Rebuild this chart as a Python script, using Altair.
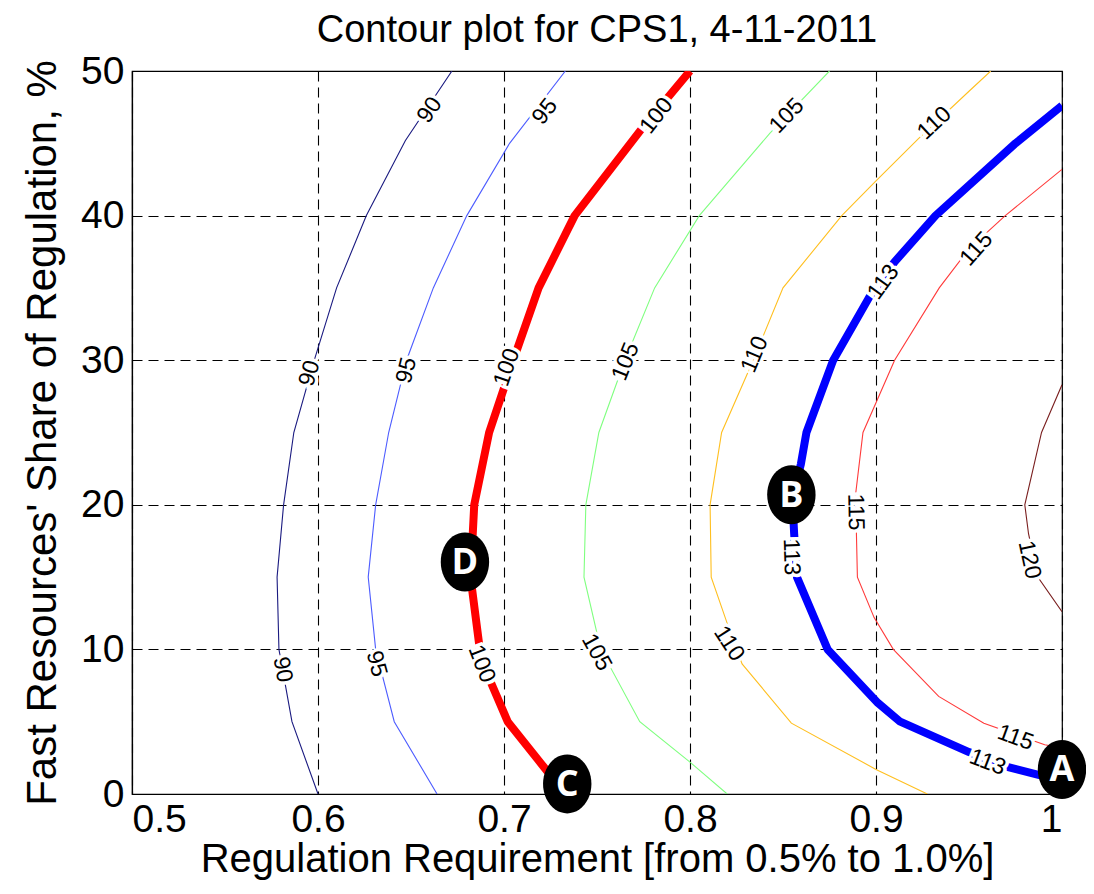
import math
import altair as alt
import pandas as pd

# ---------------- data ----------------
c90_x = [0.600, 0.586, 0.579, 0.578, 0.5815, 0.587, 0.598, 0.610, 0.626, 0.647, 0.672]
c90_y = [0, 5, 10, 15, 20, 25, 30, 35, 40, 45.2, 50]
c95_x = [0.664, 0.641, 0.631, 0.627, 0.631, 0.638, 0.6476, 0.662, 0.680, 0.703, 0.733]
c95_y = [0, 5, 10, 15, 20, 25, 30, 35, 40, 45, 50]
c100_x = [0.733, 0.720, 0.702, 0.691, 0.687, 0.682, 0.684, 0.692, 0.705, 0.7186, 0.738, 0.774, 0.800]
c100_y = [0, 2.1, 5, 8.3, 10, 15, 20, 25, 30, 35, 40, 46, 50]
c105_x = [0.820, 0.800, 0.773, 0.752, 0.743, 0.744, 0.751, 0.765, 0.781, 0.805, 0.843, 0.875]
c105_y = [0, 2.2, 5, 10, 15, 20, 25, 30, 35, 40, 45.7, 50]
c110_x = [0.9276, 0.900, 0.8545, 0.828, 0.820, 0.8114, 0.8108, 0.817, 0.834, 0.850, 0.8816, 0.900, 0.9227, 0.950, 0.9617]
c110_y = [0, 1.7, 4.9, 9, 11.8, 15, 20, 25, 30, 35, 40, 42.4, 45.3, 48.6, 50]
c113_x = [1.0, 0.97, 0.95, 0.913, 0.901, 0.874, 0.8575, 0.856, 0.855, 0.8596, 0.8626, 0.877, 0.897, 0.910, 0.932, 0.975, 1.0]
c113_y = [0.9, 1.9, 2.9, 5, 6.3, 10, 15, 18, 20.5, 22.8, 25, 30, 34.5, 36.8, 40, 45, 47.6]
c115_x = [1.0, 0.9907, 0.958, 0.9337, 0.9093, 0.899, 0.890, 0.889, 0.893, 0.910, 0.934, 0.950, 0.9695, 1.0]
c115_y = [3.2, 3.4, 4.9, 6.75, 10, 12.2, 15, 20.7, 25, 30, 35, 37.7, 40, 43.2]
c120_x = [1.0, 0.987, 0.982, 0.980, 0.989, 1.0]
c120_y = [12.6, 15, 18, 20, 25, 28.3]

thin_levels = ["90", "95", "105", "110", "115", "120"]
thin_colors = ["#1a1a80", "#4d5cff", "#7fff7f", "#ffbf1f", "#ff3a3a", "#7a1f1f"]
thick_levels = ["100", "113"]
thick_colors = ["#ff0000", "#0000ff"]

label_text = ["90", "90", "90", "95", "95", "95", "100", "100", "100",
              "105", "105", "105", "110", "110", "110",
              "113", "113", "113", "115", "115", "115", "120"]
label_x = [0.660, 0.5955, 0.581, 0.722, 0.6476, 0.6315, 0.782, 0.7015, 0.688,
           0.852, 0.7654, 0.7498, 0.9314, 0.8348, 0.821,
           0.904, 0.8545, 0.960, 0.954, 0.889, 0.975, 0.9825]
label_y = [47.3, 29.1, 8.6, 47.2, 29.3, 9.0, 46.9, 29.5, 9.0,
           46.9, 29.9, 9.8, 46.4, 30.4, 10.4,
           35.4, 16.4, 2.2, 37.7, 19.5, 3.9, 16.2]
label_angle = [-56, -74, 80, -52, -76, 75, -52, -71, 69,
               -46, -68, 61, -43, -67, 57,
               -54, 88, 21, -48, 89, 20, 78]

marker_text = ["A", "B", "C", "D"]
marker_x = [1.0, 0.8545, 0.734, 0.679]
marker_y = [1.7, 20.7, 0.7, 16.05]

# ---------------- tables ----------------
series = {"90": (c90_x, c90_y), "95": (c95_x, c95_y), "100": (c100_x, c100_y),
          "105": (c105_x, c105_y), "110": (c110_x, c110_y), "113": (c113_x, c113_y),
          "115": (c115_x, c115_y), "120": (c120_x, c120_y)}
rows = []
for lev, (xs_, ys_) in series.items():
    for i, (xv, yv) in enumerate(zip(xs_, ys_)):
        rows.append({"level": lev, "x": xv, "y": yv, "i": i})
lines = pd.DataFrame(rows)
labels = pd.DataFrame({"t": label_text, "x": label_x, "y": label_y, "a": label_angle})
markers = pd.DataFrame({"t": marker_text, "x": marker_x, "y": marker_y})

# ellipse symbol outline (unit coordinates, taller than wide)
pts = []
for k in range(48):
    t = 2 * math.pi * k / 48
    pts.append(f"{0.82 * math.cos(t):.4f},{math.sin(t):.4f}")
ELLIPSE = "M" + "L".join(pts) + "Z"

FONT = "Liberation Sans"
xs = alt.Scale(domain=[0.5, 1.0], nice=False, zero=False)
ys = alt.Scale(domain=[0, 50], nice=False, zero=False)

X = alt.X("x:Q", scale=xs, axis=alt.Axis(
    values=[0.5, 0.6, 0.7, 0.8, 0.9, 1.0],
    labelExpr="datum.value == 1 ? '1' : format(datum.value, '.1f')",
    title="Regulation Requirement [from 0.5% to 1.0%]"))
Y = alt.Y("y:Q", scale=ys, axis=alt.Axis(
    values=[0, 10, 20, 30, 40, 50], titleFontSize=42,
    title="Fast Resources' Share of Regulation, %"))

thin = alt.Chart(lines).transform_filter(
    alt.FieldOneOfPredicate(field="level", oneOf=thin_levels)
).mark_line(strokeWidth=1.1, clip=True).encode(
    x=X, y=Y, order="i:Q",
    color=alt.Color("level:N", scale=alt.Scale(domain=thin_levels, range=thin_colors), legend=None),
)
thick = alt.Chart(lines).transform_filter(
    alt.FieldOneOfPredicate(field="level", oneOf=thick_levels)
).mark_line(strokeWidth=8, clip=True, strokeJoin="round").encode(
    x="x:Q", y="y:Q", order="i:Q",
    color=alt.Color("level:N", scale=alt.Scale(domain=thick_levels, range=thick_colors), legend=None),
)

halo = alt.Chart(labels).mark_text(font=FONT, fontSize=23, stroke="white", strokeWidth=7,
                                    fill="white", align="center", baseline="middle").encode(
    x="x:Q", y="y:Q", text="t:N", angle=alt.Angle("a:Q", scale=None))
txt = alt.Chart(labels).mark_text(font=FONT, fontSize=23, color="black",
                                   align="center", baseline="middle").encode(
    x="x:Q", y="y:Q", text="t:N", angle=alt.Angle("a:Q", scale=None))

ell = alt.Chart(markers).mark_point(
    shape=ELLIPSE, size=3481, filled=True, color="black", opacity=1, clip=False
).encode(x="x:Q", y="y:Q")
letters = alt.Chart(markers).mark_text(font="Open Sans", fontWeight="bold", fontSize=36,
                                        color="white", align="center", baseline="middle",
                                        dy=1, clip=False).encode(x="x:Q", y="y:Q", text="t:N")

chart = alt.layer(thin, thick, halo, txt, ell, letters).resolve_scale(color="independent").properties(
    width=930, height=723,
    title=alt.TitleParams("Contour plot for CPS1, 4-11-2011", font=FONT, fontSize=38,
                          fontWeight="normal", color="black", offset=2),
    autosize=alt.AutoSizeParams(type="none"),
    padding={"left": 124, "top": 63, "right": 24, "bottom": 92},
).configure_view(stroke="black", strokeWidth=1.2).configure_axis(
    labelFont=FONT, labelFontSize=39, labelColor="black",
    titleFont=FONT, titleFontSize=40, titleFontWeight="normal", titleColor="black",
    domainColor="black", domainWidth=1.2, ticks=False,
    grid=True, gridColor="black", gridOpacity=1, gridWidth=1.1, gridDash=[10, 6],
).configure_axisX(labelPadding=6, titlePadding=0).configure_axisY(labelPadding=8, titlePadding=16)

chart.save("out.html", embed_options={"renderer": "svg", "actions": False})
